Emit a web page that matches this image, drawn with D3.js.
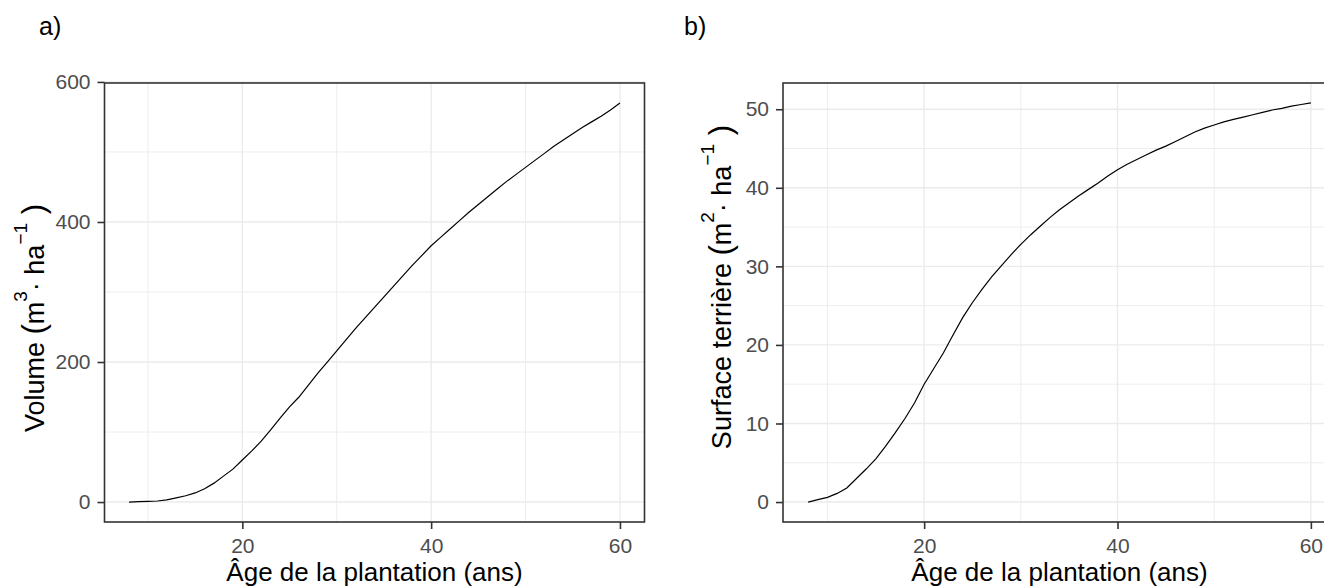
<!DOCTYPE html>
<html>
<head>
<meta charset="utf-8">
<script src="https://d3js.org/d3.v7.min.js"></script>
<style>
  body { margin: 0; background: #fff; }
  svg { display: block; font-family: "Liberation Sans", Arial, sans-serif; }
</style>
</head>
<body>
<svg id="svg" width="1324" height="588"></svg>
<script>
// ages (years) shared by both curves
var ages = [8, 9, 10, 11, 12, 13, 14, 15, 16, 17, 18, 19, 20, 21, 22, 23, 24, 25, 26, 27, 28, 29,
            30, 31, 32, 33, 34, 35, 36, 37, 38, 39, 40, 41, 42, 43, 44, 45, 46, 47, 48, 49,
            50, 51, 52, 53, 54, 55, 56, 57, 58, 59, 60];

// a) volume, m3/ha
var volume = [0, 0.5, 1, 1.5, 3, 6, 9, 13, 19, 27, 37, 47, 60, 73, 87, 103, 120, 136, 150, 167, 184, 200,
              216, 232, 248, 263, 278, 293, 308, 323, 338, 352, 366, 378, 390, 402, 414, 425, 436, 447, 458, 468,
              478, 488, 498, 508, 517, 526, 535, 543, 551, 560, 570];

// b) basal area, m2/ha
var basal = [0, 0.3, 0.6, 1.1, 1.8, 3.0, 4.2, 5.5, 7.1, 8.8, 10.6, 12.6, 15.0, 17.0, 19.0, 21.3, 23.5, 25.4, 27.1, 28.7, 30.1, 31.5,
             32.8, 34.0, 35.1, 36.2, 37.2, 38.1, 39.0, 39.8, 40.6, 41.5, 42.3, 43.0, 43.6, 44.2, 44.8, 45.3, 45.9, 46.5, 47.1, 47.6,
             48.0, 48.4, 48.7, 49.0, 49.3, 49.6, 49.9, 50.1, 50.4, 50.6, 50.8];

var x_ticks = [20, 40, 60];
var x_minor = [10, 30, 50];
var vol_ticks = [0, 200, 400, 600];
var vol_minor = [100, 300, 500];
var ba_ticks = [0, 10, 20, 30, 40, 50];
var ba_minor = [5, 15, 25, 35, 45];

var svg = d3.select("#svg");

// ggplot style 5% expansion
function expand(ext){
  var pad = (ext[1] - ext[0]) * 0.05;
  return [ext[0] - pad, ext[1] + pad];
}

function draw_panel(p){
  var g = svg.append("g");
  var x = d3.scaleLinear().domain(expand(d3.extent(ages))).range([p.left, p.right]);
  var y = d3.scaleLinear().domain(expand(d3.extent(p.values))).range([p.bottom, p.top]);

  // grid
  g.selectAll(".xminor").data(p.xminor).enter().append("line")
    .attr("x1", x).attr("x2", x).attr("y1", p.top).attr("y2", p.bottom)
    .attr("stroke", "#EBEBEB").attr("stroke-width", 0.9);
  g.selectAll(".yminor").data(p.yminor).enter().append("line")
    .attr("x1", p.left).attr("x2", p.right).attr("y1", y).attr("y2", y)
    .attr("stroke", "#EBEBEB").attr("stroke-width", 0.9);
  g.selectAll(".xmajor").data(p.xticks).enter().append("line")
    .attr("x1", x).attr("x2", x).attr("y1", p.top).attr("y2", p.bottom)
    .attr("stroke", "#EBEBEB").attr("stroke-width", 1.4);
  g.selectAll(".ymajor").data(p.yticks).enter().append("line")
    .attr("x1", p.left).attr("x2", p.right).attr("y1", y).attr("y2", y)
    .attr("stroke", "#EBEBEB").attr("stroke-width", 1.4);

  // curve
  var line = d3.line()
    .x(function(d, i){ return x(ages[i]); })
    .y(function(d){ return y(d); });
  g.append("path").datum(p.values)
    .attr("d", line)
    .attr("fill", "none").attr("stroke", "#000").attr("stroke-width", 1.2);

  // axes
  var ax = g.append("g").attr("transform", "translate(0," + p.bottom + ")")
    .call(d3.axisBottom(x).tickValues(p.xticks).tickSize(7).tickPadding(9));
  var ay = g.append("g").attr("transform", "translate(" + p.left + ",0)")
    .call(d3.axisLeft(y).tickValues(p.yticks).tickSize(7).tickPadding(7));
  [ax, ay].forEach(function(a){
    a.select(".domain").remove();
    a.selectAll(".tick line").attr("stroke", "#333333").attr("stroke-width", 1.6);
    a.selectAll(".tick text").attr("fill", "#4D4D4D")
      .style("font-size", "21px").style("font-family", "Liberation Sans, Arial, sans-serif");
  });

  // border
  g.append("rect")
    .attr("x", p.left).attr("y", p.top)
    .attr("width", p.right - p.left).attr("height", p.bottom - p.top)
    .attr("fill", "none").attr("stroke", "#333333").attr("stroke-width", 1.6);

  // x title
  g.append("text")
    .attr("x", (p.left + p.right) / 2).attr("y", 581)
    .attr("text-anchor", "middle").style("font-size", "26px").attr("fill", "#000")
    .text("Âge de la plantation (ans)");

  // y title with superscripts, anchored on its closing bracket
  var t = g.append("text")
    .attr("transform", "translate(" + p.ytitle_x + "," + p.ytitle_end + ") rotate(-90)")
    .attr("text-anchor", "end").style("font-size", "27px").attr("fill", "#000");
  t.append("tspan").text(p.ylab + " ");
  t.append("tspan").style("font-size", "31px").text("(");
  t.append("tspan").text("m");
  t.append("tspan").attr("dy", -17).style("font-size", "19px").text(p.unit);
  t.append("tspan").attr("dy", 17).text("\u00B7 ha");
  t.append("tspan").attr("dy", -17).style("font-size", "19px").text("\u22121");
  t.append("tspan").attr("dy", 17).style("font-size", "31px").text(" )");

  // panel tag
  svg.append("text")
    .attr("x", p.tag_x).attr("y", 35)
    .style("font-size", "25px").attr("fill", "#000")
    .text(p.tag);
}

draw_panel({tag: "a)", tag_x: 39, left: 104.5, right: 644.5, top: 83, bottom: 522,
  values: volume, xticks: x_ticks, xminor: x_minor, yticks: vol_ticks, yminor: vol_minor,
  ylab: "Volume", unit: "3", ytitle_x: 44, ytitle_end: 204});

draw_panel({tag: "b)", tag_x: 684, left: 783, right: 1336, top: 83, bottom: 522,
  values: basal, xticks: x_ticks, xminor: x_minor, yticks: ba_ticks, yminor: ba_minor,
  ylab: "Surface terrière", unit: "2", ytitle_x: 731, ytitle_end: 125});
</script>
</body>
</html>
